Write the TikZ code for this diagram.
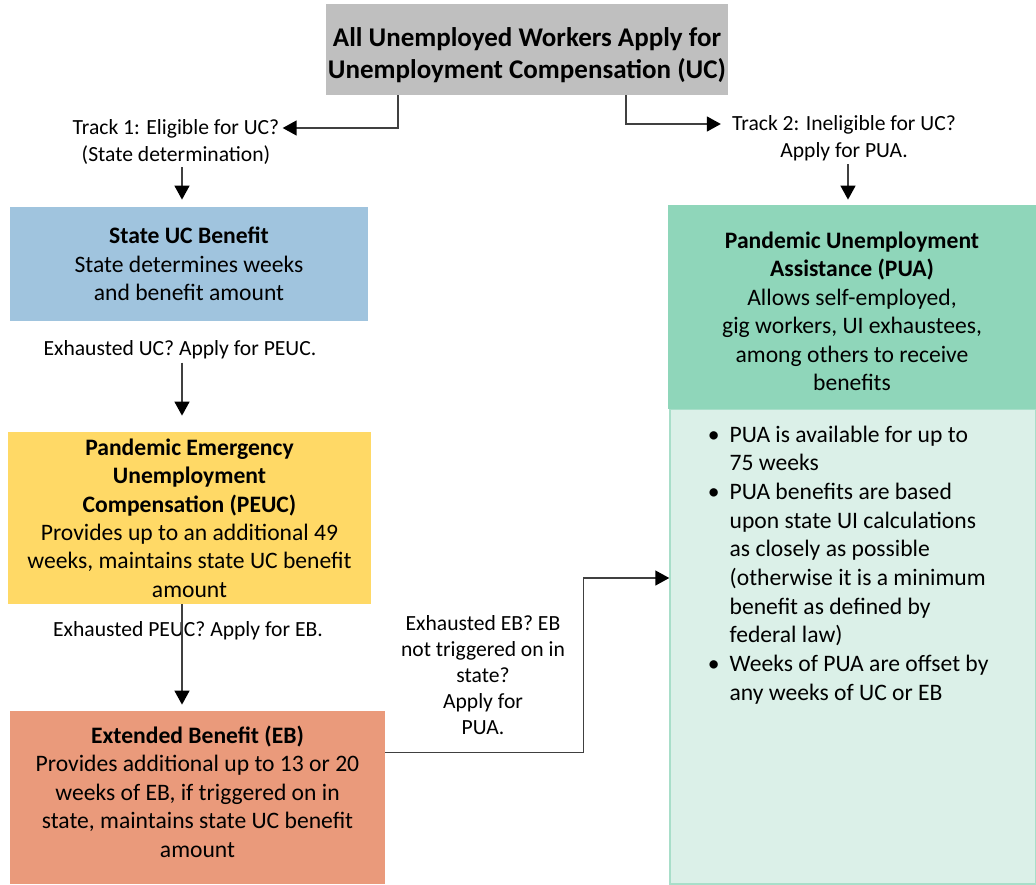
\documentclass[tikz,border=0pt]{standalone}
\usepackage{fontspec}
\setmainfont{Carlito}
\usetikzlibrary{arrows.meta}

\definecolor{ucgray}{HTML}{BFBFBF}
\definecolor{ucblue}{HTML}{A0C4DE}
\definecolor{peucyellow}{HTML}{FFD966}
\definecolor{ebsalmon}{HTML}{EA9A7B}
\definecolor{puagreen}{HTML}{8FD6BA}
\definecolor{pualight}{HTML}{DBF0E8}
\definecolor{puaedge}{HTML}{A8DEC9}
\definecolor{linegray}{HTML}{404040}

\begin{document}
\begin{tikzpicture}[x=0.5pt,y=-0.5pt,
	box/.style={rectangle,inner sep=0pt,align=center,text=black,font=\fontsize{11.8}{14.2}\selectfont},
	lbl/.style={inner sep=1.5pt,align=center,text=black,font=\fontsize{10.8}{13.5}\selectfont},
	arr/.style={draw=linegray,line width=0.75pt,-{Triangle[width=7.5pt,length=7pt,black]}}]
	\useasboundingbox (0,0) rectangle (1036,884);
	% boxes
	\node[box,fill=ucgray,minimum width=201pt,minimum height=45.5pt,font=\fontsize{13.5}{16}\selectfont\bfseries] (top) at (527,49.5) {\rule{0pt}{14.7pt}All Unemployed Workers Apply for\\Unemployment Compensation (UC)};
	\node[box,fill=ucblue,minimum width=179pt,minimum height=57pt] (stateuc) at (189,264) {\textbf{State UC Benefit}\\State determines weeks\\and benefit amount};
	\node[box,fill=peucyellow,minimum width=181.5pt,minimum height=86pt] (peuc) at (189.5,518) {\textbf{Pandemic Emergency}\\\textbf{Unemployment}\\\textbf{Compensation (PEUC)}\\Provides up to an additional 49\\weeks, maintains state UC benefit\\amount};
	\node[box,fill=ebsalmon,minimum width=187.5pt,minimum height=86.5pt] (eb) at (197.5,797.5) {\textbf{Extended Benefit (EB)}\\Provides additional up to 13 or 20\\weeks of EB, if triggered on in\\state, maintains state UC benefit\\amount\rule[-6pt]{0pt}{1pt}};
	\node[box,fill=pualight,draw=puaedge,line width=0.75pt,minimum width=183pt,minimum height=237.5pt] (puabody) at (853,646.5) {};
	\node[box,fill=puagreen,minimum width=184pt,minimum height=102pt] (puahead) at (852,307) {\rule{0pt}{12.5pt}\textbf{Pandemic Unemployment}\\\textbf{Assistance (PUA)}\\Allows self-employed,\\gig workers, UI exhaustees,\\among others to receive\\benefits};
	\node[box,anchor=north west,align=left,font=\fontsize{11.8}{14.35}\selectfont] (pualist) at ([xshift=30pt,yshift=-8.5pt]puabody.north west)
		{\llap{\textbullet\hspace{5pt}}PUA is available for up to\\75 weeks\\
		\llap{\textbullet\hspace{5pt}}PUA benefits are based\\upon state UI calculations\\as closely as possible\\(otherwise it is a minimum\\benefit as defined by\\federal law)\\
		\llap{\textbullet\hspace{5pt}}Weeks of PUA are offset by\\any weeks of UC or EB};
	% labels
	\node[lbl] (trackone) at (176,141.5) {Track 1: Eligible for UC?\\(State determination)};
	\node[lbl] (tracktwo) at (844,138) {Track 2: Ineligible for UC?\\Apply for PUA.};
	\node[lbl] (lbluc) at (180,350) {Exhausted UC? Apply for PEUC.};
	\node[lbl] (lblpeuc) at (188,631) {Exhausted PEUC? Apply for EB.};
	\node[lbl,font=\fontsize{10.8}{13}\selectfont] (lbleb) at (483,675) {Exhausted EB? EB\\not triggered on in\\state?\\Apply for\\PUA.};
	% connectors
	\draw[arr] ([xshift=-64.5pt]top.south) |- ([yshift=6.75pt]trackone.east);
	\draw[arr,shorten >=4pt] ([xshift=49.5pt]top.south) |- ([yshift=7pt]tracktwo.west);
	\draw[arr,shorten >=3.5pt] ([xshift=3pt]trackone.south) -- ([xshift=3pt]trackone.south |- stateuc.north);
	\draw[arr,shorten >=2.5pt] ([xshift=2pt]tracktwo.south) -- ([xshift=2pt]tracktwo.south |- puahead.north);
	\draw[arr,shorten >=8pt] ([xshift=1pt]lbluc.south) -- ([xshift=1pt]lbluc.south |- peuc.north);
	\draw[arr,shorten >=3pt] ([xshift=1pt]lbluc.south |- peuc.south) -- ([xshift=1pt]lbluc.south |- eb.north);
	\draw[arr] ([yshift=22.5pt]eb.east) -- ++(198,0) |- ([yshift=34.25pt]puabody.west);
\end{tikzpicture}
\end{document}
